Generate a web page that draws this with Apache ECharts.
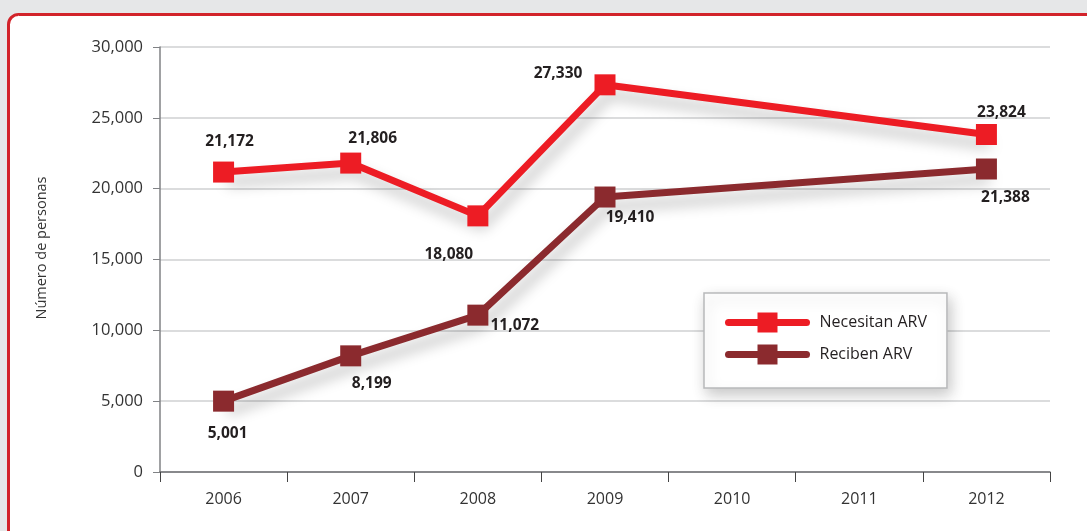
<!DOCTYPE html>
<html>
<head>
<meta charset="utf-8">
<script src="https://cdn.jsdelivr.net/npm/echarts@6/dist/echarts.min.js"></script>
<style>
html,body{margin:0;padding:0;background:#e6e7e8;}
#c{width:1087px;height:531px;}
</style>
</head>
<body>
<div id="c"></div>
<script>
// Data
const years = ['2006','2007','2008','2009','2010','2011','2012'];
const necesitan = [21172, 21806, 18080, 27330, null, null, 23824];
const reciben = [5001, 8199, 11072, 19410, null, null, 21388];
const seriesNames = ['Necesitan ARV', 'Reciben ARV'];
const yTicks = [0, 5000, 10000, 15000, 20000, 25000, 30000];

// Label placement (styling only)
const necesitanOffsets = [[6,-30],[22,-25],[-29,39],[-47,-11],null,null,[15,-22]];
const recibenOffsets = [[4,32],[21,28],[37,10],[25,21],null,null,[19,29]];

const FONT = "'Open Sans', 'Noto Sans', sans-serif";
const fmt = v => v.toLocaleString('en-US');

function buildData(values, offsets){
  return values.map((v,i)=> v==null ? null : ({
    value: v,
    label: { offset: offsets[i] }
  }));
}

function lineSeries(name, values, offsets, color){
  return {
    name: name,
    type: 'line',
    data: buildData(values, offsets),
    connectNulls: true,
    symbol: 'rect',
    symbolSize: 21,
    itemStyle: { color: color },
    lineStyle: {
      color: color, width: 7,
      shadowColor: 'rgba(0,0,0,0.28)', shadowBlur: 14, shadowOffsetX: 4, shadowOffsetY: 10
    },
    label: {
      show: true,
      position: 'inside',
      formatter: p => fmt(p.value),
      fontFamily: FONT,
      fontWeight: 'bold',
      fontSize: 15.5,
      color: '#231f20'
    },
    emphasis: { disabled: true },
    animation: false
  };
}

const chart = echarts.init(document.getElementById('c'), null, {renderer:'canvas'});
chart.setOption({
  backgroundColor: '#e6e7e8',
  animation: false,
  graphic: [
    {
      type: 'rect', z: -10, silent: true,
      shape: { x: 8.5, y: 14.5, width: 1200, height: 700, r: 10 },
      style: { fill: '#ffffff', stroke: '#d2232a', lineWidth: 3 }
    },
    {
      type: 'text', z: 10, silent: true,
      x: 42, y: 248, rotation: Math.PI/2,
      style: {
        text: 'Número de personas', fontFamily: FONT, fontSize: 14.5,
        fill: '#333', align: 'center', verticalAlign: 'middle'
      }
    }
  ],
  grid: { left: 160, right: 37, top: 47, bottom: 59 },
  legend: {
    orient: 'vertical',
    left: 704, top: 293,
    padding: [17, 20, 21, 21],
    itemGap: 7,
    itemWidth: 78,
    itemHeight: 25,
    backgroundColor: '#fff',
    borderColor: '#b8b9bb',
    borderWidth: 1.5,
    shadowColor: 'rgba(0,0,0,0.22)',
    shadowBlur: 14,
    shadowOffsetX: 3,
    shadowOffsetY: 6,
    lineStyle: { width: 7, cap: 'round', shadowBlur: 0, shadowOffsetX: 0, shadowOffsetY: 0 },
    textStyle: { fontFamily: FONT, fontSize: 16, color: '#231f20', padding: [0,0,0,8], lineHeight: 25, height: 25 },
    data: seriesNames
  },
  xAxis: {
    type: 'category',
    data: years,
    boundaryGap: true,
    axisLine: { lineStyle: { color: '#6d6e71', width: 1.5 } },
    axisTick: { show: true, interval: 0, length: 10, lineStyle: { color: '#444', width: 1 } },
    axisLabel: { fontFamily: FONT, fontSize: 16, color: '#333', margin: 19 },
    splitLine: { show: false }
  },
  yAxis: {
    type: 'value',
    min: 0, max: 30000, interval: 5000,
    axisLine: { show: true, lineStyle: { color: '#808285', width: 1.5 } },
    axisTick: { show: true, length: 7, lineStyle: { color: '#808285' } },
    axisLabel: {
      fontFamily: FONT, fontSize: 16.5, color: '#333', margin: 17,
      formatter: v => yTicks.includes(v) ? fmt(v) : ''
    },
    splitLine: { show: true, lineStyle: { color: '#cfd0d2', width: 1.5 } }
  },
  series: [
    lineSeries(seriesNames[0], necesitan, necesitanOffsets, '#ed1c24'),
    lineSeries(seriesNames[1], reciben, recibenOffsets, '#8b2a2e')
  ]
});
</script>
</body>
</html>
